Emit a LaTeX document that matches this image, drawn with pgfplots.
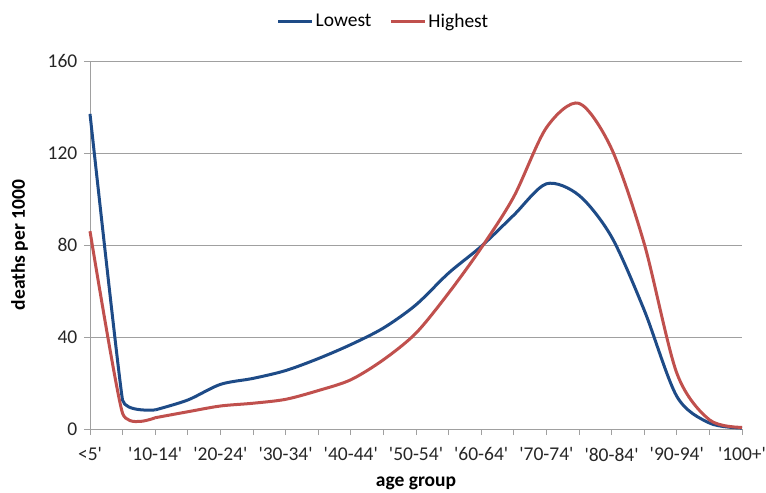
\documentclass[border=0pt]{standalone}
\usepackage{fontspec}
\setmainfont{Carlito}
\usepackage{pgfplots}
\pgfplotsset{compat=1.18}
\definecolor{lowblue}{RGB}{30,75,135}
\definecolor{highred}{RGB}{192,80,77}
\definecolor{gridgray}{RGB}{160,160,160}
\newcommand{\q}{\textquotesingle}
\newcommand{\chartfont}{\fontsize{19.5bp}{22bp}\selectfont}

\begin{document}
\chartfont
\begin{tikzpicture}
\path[use as bounding box] (-90bp,-64bp) rectangle (676bp,429bp);
\begin{axis}[
    scale only axis,
    width=652bp, height=368bp,
    xmin=0, xmax=20,
    ymin=0, ymax=160,
    xtick={0,...,20},
    xticklabels={<5\q,,\q10-14\q,,\q20-24\q,,\q30-34\q,,\q40-44\q,,\q50-54\q,,\q60-64\q,,\q70-74\q,,\q80-84\q,,\q90-94\q,,\q100+\q},
    ytick={0,40,80,120,160},
    /pgf/number format/assume math mode=true,
    tick label style={font=\chartfont, text=black!85},
    xticklabel style={yshift=-6bp},
    axis x line*=bottom, axis y line*=left,
    axis line style={gridgray, line width=0.9bp},
    tick style={gridgray, line width=0.9bp},
    tick align=outside,
    major tick length=6bp,
    ymajorgrids=true,
    grid style={gridgray, line width=0.9bp},
    xlabel={\bfseries age group},
    ylabel={\bfseries deaths per 1000},
    every axis x label/.style={at={(axis description cs:0.5,-0.147)}, anchor=center, font=\chartfont},
    every axis y label/.style={at={(axis description cs:-0.108,0.5)}, rotate=90, anchor=center, font=\chartfont},
    legend columns=2,
    legend style={at={(axis description cs:0.45,1.106)}, anchor=center, draw=none, fill=none,
        font=\chartfont, /tikz/every even column/.append style={column sep=16bp}},
    legend image code/.code={\draw[#1, line width=3bp] (-0.1cm,0cm) -- (1.1cm,0cm);},
    clip=false,
]
% steep drop from the first group, drawn with a low tension so it does not overshoot
\addplot[lowblue, line width=3bp, smooth, tension=0.15, forget plot] coordinates {
    (0,137) (1,12.5) (2,8.3)
};
\addplot[highred, line width=3bp, smooth, tension=0.3, forget plot] coordinates {
    (0,86) (1,6.8) (2,4.9)
};
\addplot[lowblue, line width=3bp, smooth, tension=0.5] coordinates {
    (2,8.3) (3,12.6) (4,19.4) (5,22) (6,25.4) (7,30.6)
    (8,36.7) (9,43.9) (10,54) (11,67.8) (12,79.4) (13,93) (14,106.6)
    (15,101.6) (16,83.5) (17,51.7) (18,14.2) (19,2.6) (20,0.4)
};
\addlegendentry{Lowest}
\addplot[highred, line width=3bp, smooth, tension=0.5] coordinates {
    (2,4.9) (3,7.5) (4,10) (5,11.2) (6,12.9) (7,16.7)
    (8,21.4) (9,30.1) (10,41.7) (11,59.1) (12,78.7) (13,101) (14,131)
    (15,141.6) (16,121.8) (17,80.6) (18,24.3) (19,4) (20,0.7)
};
\addlegendentry{Highest}
\end{axis}
\end{tikzpicture}
\end{document}
